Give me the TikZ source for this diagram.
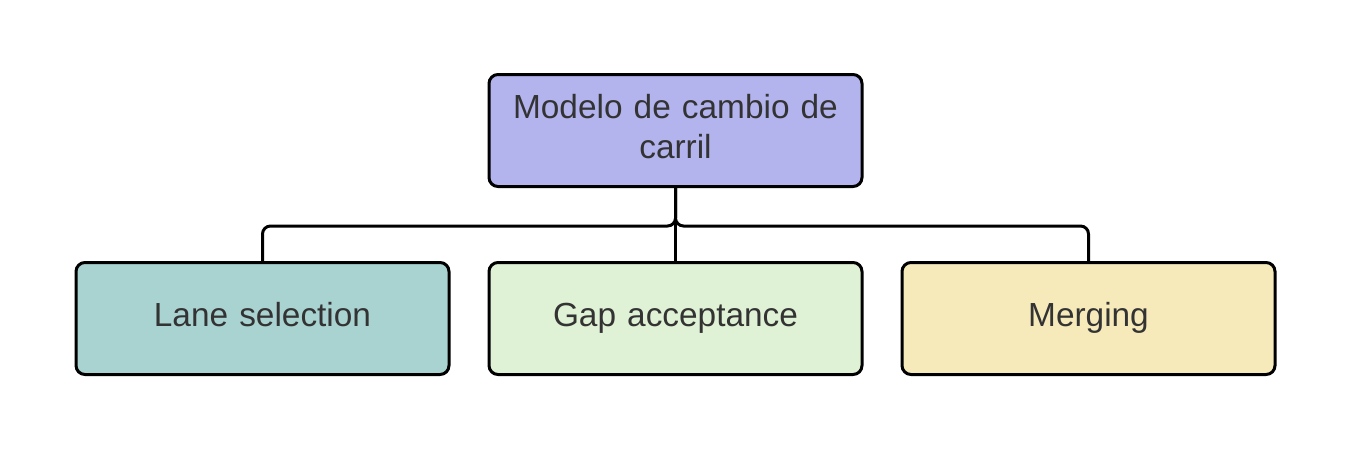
\documentclass[tikz,border=0pt]{standalone}
\usepackage{fontspec}
\setmainfont{Liberation Sans}
\usepackage{tikz}
\usetikzlibrary{shapes.geometric, arrows}
\definecolor{modelfill}{RGB}{179,179,238}
\definecolor{lanefill}{RGB}{169,211,209}
\definecolor{gapfill}{RGB}{224,242,214}
\definecolor{mergefill}{RGB}{246,234,187}
\definecolor{labeltext}{RGB}{51,51,51}
\tikzstyle{block} = [rectangle, rounded corners=0.18cm, minimum width=7.46cm, minimum height=2.24cm, text width=7cm, align=center, draw=black, line width=0.06cm, text=labeltext, font=\fontsize{19}{22.8}\selectfont, execute at begin node=\strut, execute at end node=\strut]
\tikzstyle{modelbox} = [block, fill=modelfill]
\tikzstyle{lanebox} = [block, fill=lanefill]
\tikzstyle{gapbox} = [block, fill=gapfill]
\tikzstyle{mergebox} = [block, fill=mergefill]
\tikzstyle{link} = [line width=0.06cm, rounded corners=0.16cm]

\begin{document}
\begin{tikzpicture}[node distance=3.76cm]
    \useasboundingbox (0,0) rectangle (27,-9);
    \node (model) [modelbox] at (13.51,-2.61) {Modelo de cambio de\\carril};
    \node (gap) [gapbox, below of=model] {Gap acceptance};
    \node (lane) [lanebox, left of=gap, xshift=-4.5cm] {Lane selection};
    \node (merge) [mergebox, right of=gap, xshift=4.5cm] {Merging};

    \draw [link] (model.south) -- ++(0,-0.76) -| (lane.north);
    \draw [link] (model.south) -- ++(0,-0.76) -| (merge.north);
    \draw [link] (model.south) -- (gap.north);
\end{tikzpicture}
\end{document}
